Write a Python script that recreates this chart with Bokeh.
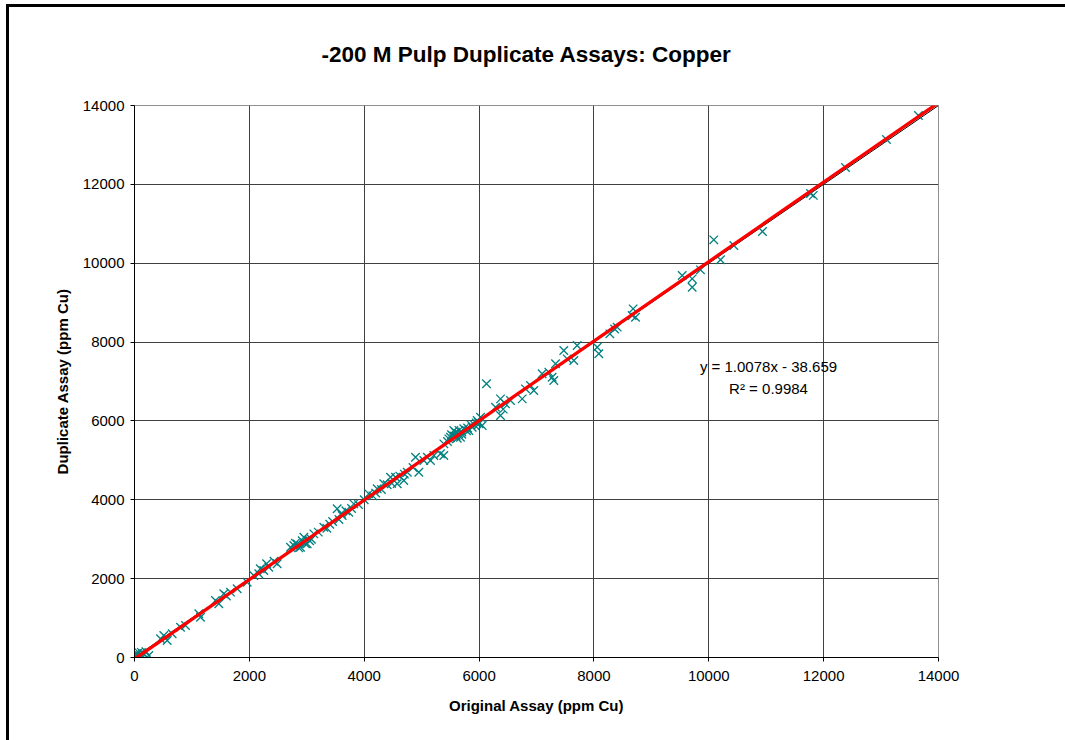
from bokeh.plotting import figure
from bokeh.models import Range1d, Label, FixedTicker, InlineStyleSheet
from bokeh.embed import file_html
from bokeh.resources import INLINE

# ---- data ----
original = [0, 20, 47, 60, 100, 120, 162, 200, 249, 30,
            453, 510, 569, 656, 801, 888, 1120, 1149, 1410, 1468,
            1555, 1672, 1788, 1962, 2077, 2164, 2251, 2338, 2300, 2484, 2430,
            2716, 2774, 2833, 2890, 2949, 2977, 3007, 3050, 3123, 3200,
            3297, 3350, 3450, 3529, 3560, 3616, 3680, 3732, 3819, 3780,
            3900, 4000, 4080, 4150, 4226, 4300, 4341, 4400, 4458, 4545,
            4574, 4620, 4689, 4750, 4893, 4951, 4850, 5038, 5154, 5100,
            5212, 5328, 5386, 5386, 5473, 5502, 5560, 5589, 5647, 5676,
            5700, 5734, 5780, 5821, 5880, 5920, 5967, 6025, 6054, 6129,
            5450, 5600, 5650, 5800, 5950, 6000, 5520,
            6286, 6373, 6373, 6420, 6460, 6547, 6751, 6808, 6895, 6953,
            7098, 7214, 7272, 7301, 7331, 7475, 7534, 7650, 7708, 8057,
            8085, 8277, 8405, 8360, 8683, 8724, 8666, 9537, 9711, 9711,
            9855, 10087, 10204, 10436, 10935, 11771, 11820, 12380, 13094, 13651,
            2800, 2860, 2920, 3080, 3400, 3600, 4200, 4480, 4700, 5560,
            5620, 5700, 5860, 5990, 70, 140, 2190, 1600]
duplicate = [10, 90, 94, 20, 40, 130, 94, 150, 51, 0,
             474, 558, 431, 601, 769, 812, 1108, 1022, 1446, 1362,
             1615, 1657, 1742, 1910, 2080, 2123, 2206, 2290, 2380, 2376, 2440,
             2798, 2840, 2883, 2798, 3050, 2883, 2883, 2960, 3136, 3180,
             3305, 3280, 3450, 3771, 3500, 3601, 3720, 3685, 3897, 3780,
             3880, 4000, 4151, 4100, 4278, 4260, 4405, 4380, 4573, 4573,
             4405, 4600, 4489, 4700, 5080, 4700, 4820, 4996, 4996, 5080,
             5123, 5166, 5123, 5419, 5546, 5587, 5757, 5714, 5673, 5587,
             5720, 5800, 5750, 5757, 5841, 5900, 6011, 6094, 5884, 6941,
             5480, 5620, 5760, 5820, 5950, 5930, 5650,
             6348, 6560, 6137, 6300, 6434, 6518, 6560, 6814, 6898, 6771,
             7195, 7237, 7109, 7025, 7449, 7786, 7575, 7532, 7913, 7870,
             7702, 8209, 8378, 8330, 8843, 8631, 8674, 9688, 9604, 9392,
             9832, 10593, 10086, 10449, 10804, 11768, 11720, 12427, 13137, 13746,
             2900, 2780, 2960, 3000, 3380, 3650, 4170, 4420, 4650, 5620,
             5560, 5660, 5900, 5960, 130, 40, 2250, 1560]

slope = 1.0078
intercept = -38.659
r_squared = 0.9984
axis_ticks = [0, 2000, 4000, 6000, 8000, 10000, 12000, 14000]
line_x = [0, 14000]

title_text = "-200 M Pulp Duplicate Assays: Copper"
x_label = "Original Assay (ppm Cu)"
y_label = "Duplicate Assay (ppm Cu)"

FONT = "Liberation Sans"

p = figure(width=1065, height=740, output_backend="svg", toolbar_location=None,
           x_range=Range1d(0, 14000), y_range=Range1d(0, 14000),
           min_border_left=134, min_border_right=127,
           min_border_top=105, min_border_bottom=83)

frame_css = InlineStyleSheet(css="""
:host::before { content: ""; position: absolute; left: 6px; top: 4px; bottom: 0px;
                width: 3px; background: #000000; z-index: 20; pointer-events: none; }
:host::after  { content: ""; position: absolute; left: 6px; top: 4px; right: 0px;
                height: 3px; background: #000000; z-index: 20; pointer-events: none; }
""")
p.stylesheets = [frame_css]

p.background_fill_color = "white"
p.border_fill_color = "white"
p.outline_line_color = "#909090"
p.outline_line_width = 1

p.title.text = title_text
p.title.align = "left"
p.title.text_font = FONT
p.title.text_font_size = "22.5px"
p.title.text_font_style = "bold"
p.title.text_color = "black"
p.title.offset = 187
p.title.standoff = 78

for ax in (p.xaxis[0], p.yaxis[0]):
    ax.ticker = FixedTicker(ticks=axis_ticks)
    ax.axis_line_color = "black"
    ax.major_tick_line_color = "black"
    ax.major_tick_in = 0
    ax.major_tick_out = 4
    ax.minor_tick_line_color = None
    ax.major_label_text_font = FONT
    ax.major_label_text_font_size = "15px"
    ax.major_label_text_color = "black"
    ax.axis_label_text_font = FONT
    ax.axis_label_text_font_size = "15px"
    ax.axis_label_text_font_style = "bold"
    ax.axis_label_text_color = "black"

p.xaxis.axis_label = x_label
p.yaxis.axis_label = y_label
p.xaxis.major_label_standoff = 9
p.yaxis.major_label_standoff = 6
p.xaxis.axis_label_standoff = 13
p.yaxis.axis_label_standoff = 9
p.yaxis.major_label_orientation = "horizontal"

p.xgrid.ticker = FixedTicker(ticks=axis_ticks[1:-1])
p.ygrid.ticker = FixedTicker(ticks=axis_ticks[1:-1])
for g in (p.xgrid[0], p.ygrid[0]):
    g.grid_line_color = "#404040"
    g.grid_line_width = 1

# 1:1 reference line
p.line(line_x, line_x, line_color="black", line_width=1)
# data points
p.scatter(original, duplicate, marker="x", size=12, line_color="#008080", line_width=1.3)
# linear trend line
trend_y = [slope * v + intercept for v in line_x]
p.line(line_x, trend_y, line_color="#ff0000", line_width=3.3)

eq_text = "y = %.4fx - %.3f" % (slope, -intercept)
r2_text = "R\u00b2 = %.4f" % r_squared
p.add_layout(Label(x=11040, y=7368, text=eq_text, text_font=FONT, text_font_size="15px",
                   text_align="center", text_baseline="middle", text_color="black"))
p.add_layout(Label(x=11040, y=6810, text=r2_text, text_font=FONT, text_font_size="15px",
                   text_align="center", text_baseline="middle", text_color="black"))

open("out.html", "w").write(file_html(p, INLINE))
